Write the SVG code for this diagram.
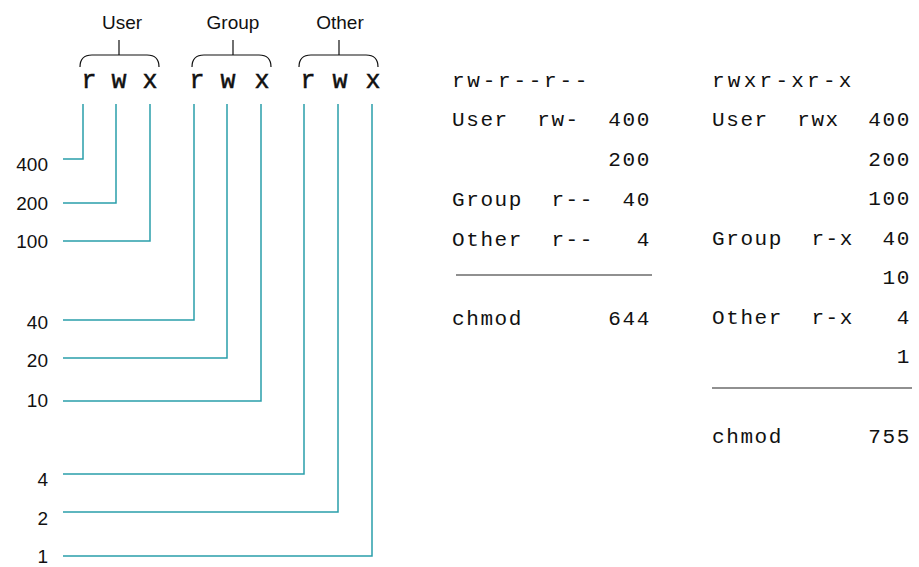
<svg xmlns="http://www.w3.org/2000/svg" width="919" height="567" viewBox="0 0 919 567">
  <style>
    .lbl { font-family: "Liberation Sans", Arial, sans-serif; font-size: 19px; fill: #111; }
    .num { font-family: "Liberation Sans", Arial, sans-serif; font-size: 19px; fill: #111; text-anchor: end; }
    .bit { font-family: "Liberation Mono", "Courier New", monospace; font-size: 25px; fill: #111; stroke: #111; stroke-width: 0.5; text-anchor: middle; }
    .tt { font-family: "Liberation Mono", "Courier New", monospace; font-size: 21px; fill: #111; letter-spacing: 1.6px; white-space: pre; }
    .brace { fill: none; stroke: #111; stroke-width: 1.2; }
    .wire { fill: none; stroke: #2a9fab; stroke-width: 1.5; }
    .rule { stroke: #222; stroke-width: 1.2; }
  </style>

  <!-- group headings with braces -->
  <g id="user-group">
    <text class="lbl" x="122" y="29" text-anchor="middle">User</text>
    <path class="brace" d="M119 40 V55 M80 67 Q80 55 92 55 H147 Q159 55 159 67"/>
    <text class="bit" x="89" y="88">r</text>
    <text class="bit" x="119" y="88">w</text>
    <text class="bit" x="150" y="88">x</text>
  </g>
  <g id="group-group">
    <text class="lbl" x="233" y="29" text-anchor="middle">Group</text>
    <path class="brace" d="M233 40 V55 M192 67 Q192 55 204 55 H259 Q271 55 271 67"/>
    <text class="bit" x="197" y="88">r</text>
    <text class="bit" x="228" y="88">w</text>
    <text class="bit" x="262" y="88">x</text>
  </g>
  <g id="other-group">
    <text class="lbl" x="340" y="29" text-anchor="middle">Other</text>
    <path class="brace" d="M339 40 V55 M299 67 Q299 55 311 55 H366 Q378 55 378 67"/>
    <text class="bit" x="308" y="88">r</text>
    <text class="bit" x="340" y="88">w</text>
    <text class="bit" x="373" y="88">x</text>
  </g>

  <!-- octal values -->
  <g id="values">
    <text class="num" x="48" y="171">400</text>
    <text class="num" x="48" y="210">200</text>
    <text class="num" x="48" y="248">100</text>
    <text class="num" x="48" y="329">40</text>
    <text class="num" x="48" y="367">20</text>
    <text class="num" x="48" y="407">10</text>
    <text class="num" x="48" y="486">4</text>
    <text class="num" x="48" y="525">2</text>
    <text class="num" x="48" y="563">1</text>
  </g>

  <!-- connectors from bits to values -->
  <g id="connectors">
    <path class="wire" d="M83 104 V159 H63"/>
    <path class="wire" d="M116 104 V203 H63"/>
    <path class="wire" d="M150 104 V241 H63"/>
    <path class="wire" d="M194 104 V320 H63"/>
    <path class="wire" d="M227 104 V358 H63"/>
    <path class="wire" d="M261 104 V401 H63"/>
    <path class="wire" d="M304 104 V474 H63"/>
    <path class="wire" d="M338 104 V512 H63"/>
    <path class="wire" d="M372 104 V556 H63"/>
  </g>

  <!-- worked example: mode 644 -->
  <g id="example-644">
    <text class="tt" x="452" y="87" textLength="137" lengthAdjust="spacing">rw-r--r--</text>
    <text class="tt" x="452" y="126">User  rw-  400</text>
    <text class="tt" x="452" y="166">           200</text>
    <text class="tt" x="452" y="206">Group  r--  40</text>
    <text class="tt" x="452" y="246">Other  r--   4</text>
    <line class="rule" x1="456" y1="275" x2="652" y2="275"/>
    <text class="tt" x="452" y="325">chmod      644</text>
  </g>

  <!-- worked example: mode 755 -->
  <g id="example-755">
    <text class="tt" x="712" y="87" textLength="141" lengthAdjust="spacing">rwxr-xr-x</text>
    <text class="tt" x="712" y="126">User  rwx  400</text>
    <text class="tt" x="712" y="166">           200</text>
    <text class="tt" x="712" y="205">           100</text>
    <text class="tt" x="712" y="245">Group  r-x  40</text>
    <text class="tt" x="712" y="284">            10</text>
    <text class="tt" x="712" y="324">Other  r-x   4</text>
    <text class="tt" x="712" y="363">             1</text>
    <line class="rule" x1="712" y1="388" x2="912" y2="388" stroke="#555"/>
    <text class="tt" x="712" y="443">chmod      755</text>
  </g>
</svg>
